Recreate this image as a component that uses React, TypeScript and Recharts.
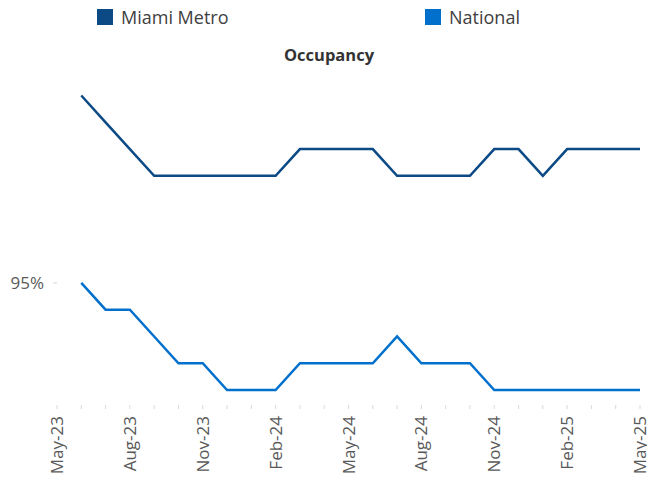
import { LineChart, Line, XAxis, YAxis, Legend } from "recharts";

// axis months (May-23 has no data, it only opens the axis)
const months = [
  "May-23", "Jun-23", "Jul-23", "Aug-23", "Sep-23", "Oct-23", "Nov-23", "Dec-23",
  "Jan-24", "Feb-24", "Mar-24", "Apr-24", "May-24", "Jun-24", "Jul-24", "Aug-24",
  "Sep-24", "Oct-24", "Nov-24", "Dec-24", "Jan-25", "Feb-25", "Mar-25", "Apr-25", "May-25",
];

const miamiMetro = [
  null, 98.5, 98.0, 97.5, 97.0, 97.0, 97.0, 97.0, 97.0, 97.0, 97.5, 97.5, 97.5,
  97.5, 97.0, 97.0, 97.0, 97.0, 97.5, 97.5, 97.0, 97.5, 97.5, 97.5, 97.5,
];

const national = [
  null, 95.0, 94.5, 94.5, 94.0, 93.5, 93.5, 93.0, 93.0, 93.0, 93.5, 93.5, 93.5,
  93.5, 94.0, 93.5, 93.5, 93.5, 93.0, 93.0, 93.0, 93.0, 93.0, 93.0, 93.0,
];

const yTicks = [95];

const METRO = "#0B4A85";
const NATIONAL = "#0070CC";
const FONT = "'Open Sans', sans-serif";

const data = months.map((m, i) => ({ month: m, metro: miamiMetro[i], national: national[i] }));

const MonthTick = (props: any) => {
  const { x, y, payload, index } = props;
  return (
    <g>
      <line x1={x} y1={y} x2={x} y2={y + 4} stroke="#d9d9d9" />
      {index % 3 === 0 && (
        <text
          x={x}
          y={y + 11}
          transform={`rotate(-90, ${x}, ${y + 11})`}
          textAnchor="end"
          dy="0.36em"
          fill="#595959"
          fontSize={17}
          fontFamily={FONT}
        >
          {payload.value}
        </text>
      )}
    </g>
  );
};

const LegendBox = () => (
  <div style={{ height: 80, position: "relative", fontFamily: FONT }}>
    {[
      { name: "Miami Metro", color: METRO, left: 97 },
      { name: "National", color: NATIONAL, left: 425 },
    ].map((it) => (
      <div
        key={it.name}
        style={{ position: "absolute", left: it.left, top: 5, display: "flex", alignItems: "center" }}
      >
        <span style={{ width: 16, height: 16, background: it.color, display: "inline-block" }} />
        <span style={{ marginLeft: 8, fontSize: 18, color: "#404040", lineHeight: "24px" }}>{it.name}</span>
      </div>
    ))}
    <div
      style={{
        position: "absolute",
        top: 43,
        left: 0,
        width: 658,
        textAlign: "center",
        fontWeight: 700,
        fontSize: 16.5,
        color: "#333",
      }}
    >
      Occupancy
    </div>
  </div>
);

export default function App() {
  return (
    <div style={{ position: "absolute", left: 0, top: 0, background: "#fff" }}>
      <LineChart width={647} height={482} data={data} margin={{ top: 0, right: 7, bottom: 0, left: 0 }}>
        <Legend
          verticalAlign="top"
          content={() => <LegendBox />}
          wrapperStyle={{ left: 0, top: 0, width: 647 }}
        />
        <XAxis
          dataKey="month"
          axisLine={false}
          tickLine={false}
          tickSize={0}
          tickMargin={0}
          interval={0}
          height={77}
          tick={<MonthTick />}
        />
        <YAxis
          width={57}
          type="number"
          domain={[92.72, 98.79]}
          allowDataOverflow
          ticks={yTicks}
          axisLine={false}
          tickLine={{ stroke: "#d9d9d9" }}
          tickSize={4}
          tickMargin={9}
          tickFormatter={(v: number) => `${v}%`}
          tick={{ fill: "#595959", fontSize: 17, fontFamily: FONT }}
        />
        <Line
          dataKey="metro"
          name="Miami Metro"
          type="linear"
          stroke={METRO}
          strokeWidth={2.5}
          dot={false}
          isAnimationActive={false}
        />
        <Line
          dataKey="national"
          name="National"
          type="linear"
          stroke={NATIONAL}
          strokeWidth={2.5}
          dot={false}
          isAnimationActive={false}
        />
      </LineChart>
    </div>
  );
}
